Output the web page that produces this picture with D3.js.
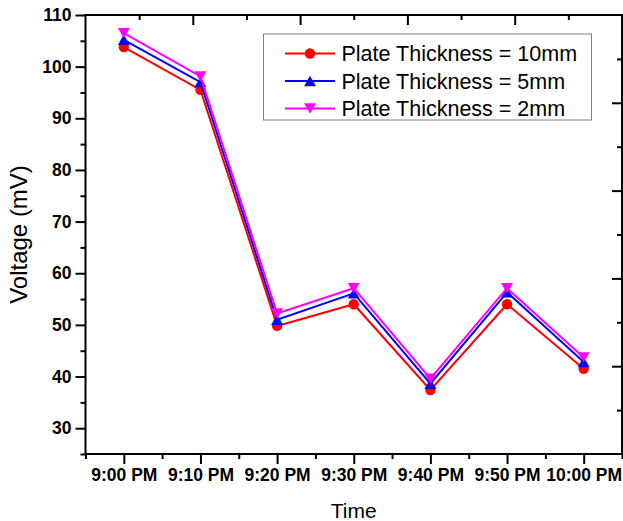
<!DOCTYPE html>
<html>
<head>
<meta charset="utf-8">
<script src="https://cdn.jsdelivr.net/npm/d3@7"></script>
<style>
  html, body { margin: 0; padding: 0; background: #fff; }
  svg { display: block; font-family: "Liberation Sans", Arial, sans-serif; }
</style>
</head>
<body>
<svg id="chart" width="623" height="521"></svg>
<script>
// ---- Data ----
const times = ["9:00 PM", "9:10 PM", "9:20 PM", "9:30 PM", "9:40 PM", "9:50 PM", "10:00 PM"];
const thick10 = [103.8, 95.5, 49.8, 54.0, 37.4, 54.0, 41.5];
const thick5  = [105.2, 97.0, 51.0, 56.1, 38.6, 56.3, 42.8];
const thick2  = [106.5, 98.1, 52.2, 57.1, 39.6, 57.1, 43.7];
const seriesNames = ["Plate Thickness = 10mm", "Plate Thickness = 5mm", "Plate Thickness = 2mm"];
const seriesColors = ["#ff0000", "#0000ff", "#ff00ff"];
const seriesSymbols = ["circle", "up", "down"];
const yMajorTicks = [30, 40, 50, 60, 70, 80, 90, 100, 110];
const yMinorTicks = [25, 35, 45, 55, 65, 75, 85, 95, 105];

const series = [thick10, thick5, thick2];

// ---- Layout ----
const L = 85.5, R = 622, T = 15, B = 454;
const svg = d3.select("#chart");

const xi = d3.scaleLinear().domain([-0.5, times.length - 0.5]).range([L, R]);
const y = d3.scaleLinear().domain([25, 110]).range([B, T]);

// frame
svg.append("rect").attr("x", L).attr("y", T).attr("width", R - L).attr("height", B - T)
  .attr("fill", "none").attr("stroke", "#000").attr("stroke-width", 2);

// bottom axis major
const xAxis = d3.axisBottom(xi).tickValues(d3.range(times.length))
  .tickFormat(i => times[i]).tickSize(10).tickPadding(5).tickSizeOuter(0);
const gx = svg.append("g").attr("transform", `translate(0,${B})`).call(xAxis);
gx.select(".domain").remove();
gx.selectAll(".tick line").attr("stroke-width", 2);
gx.selectAll(".tick text").attr("font-size", 17.5).attr("font-weight", "bold")
  .attr("font-family", "'Liberation Sans', Arial, sans-serif").attr("fill", "#000");

// bottom axis minor
const gxm = svg.append("g").attr("transform", `translate(0,${B})`)
  .call(d3.axisBottom(xi).tickValues(d3.range(-0.5, times.length, 1)).tickSize(5).tickFormat(""));
gxm.select(".domain").remove();
gxm.selectAll(".tick line").attr("stroke-width", 2);

// left axis major
const yAxis = d3.axisLeft(y).tickValues(yMajorTicks).tickSize(10).tickPadding(4).tickSizeOuter(0);
const gy = svg.append("g").attr("transform", `translate(${L},0)`).call(yAxis);
gy.select(".domain").remove();
gy.selectAll(".tick line").attr("stroke-width", 2);
gy.selectAll(".tick text").attr("font-size", 17.5).attr("font-weight", "bold")
  .attr("font-family", "'Liberation Sans', Arial, sans-serif").attr("fill", "#000");

// left axis minor
const gym = svg.append("g").attr("transform", `translate(${L},0)`)
  .call(d3.axisLeft(y).tickValues(yMinorTicks).tickSize(5).tickFormat(""));
gym.select(".domain").remove();
gym.selectAll(".tick line").attr("stroke-width", 2);

// top frame ticks (inward)
const xt = d3.scaleLinear().domain([0, 10]).range([L, R]);
const gt = svg.append("g").attr("transform", `translate(0,${T})`)
  .call(d3.axisTop(xt).tickValues(d3.range(1, 10)).tickSize(0).tickFormat(""));
gt.select(".domain").remove();
gt.selectAll(".tick line").attr("y2", d => d % 2 === 0 ? 10 : 5).attr("stroke-width", 2);

// right frame ticks (inward)
const yr = d3.scaleLinear().domain([0, 10]).range([B, T]);
const gr = svg.append("g").attr("transform", `translate(${R},0)`)
  .call(d3.axisRight(yr).tickValues(d3.range(1, 10)).tickSize(0).tickFormat(""));
gr.select(".domain").remove();
gr.selectAll(".tick line").attr("x2", d => d % 2 === 0 ? -10 : -5).attr("stroke-width", 2);

// axis titles
svg.append("text").attr("x", (L + R) / 2).attr("y", 518).attr("text-anchor", "middle")
  .attr("font-size", 21).text("Time");
svg.append("text").attr("transform", `translate(27,${(T + B) / 2}) rotate(-90)`)
  .attr("text-anchor", "middle").attr("font-size", 24).text("Voltage (mV)");

// marker path
function markerPath(type, s) {
  if (type === "circle") return d3.symbol(d3.symbolCircle, Math.PI * s * s)();
  const h = s * 1.0, w = s * 1.15;
  if (type === "up") return `M0,${-h}L${w},${h}L${-w},${h}Z`;
  return `M0,${h}L${w},${-h}L${-w},${-h}Z`;
}

const line = d3.line().x((d, i) => xi(i)).y(d => y(d));

series.forEach((vals, si) => {
  const g = svg.append("g");
  g.append("path").datum(vals).attr("d", line).attr("fill", "none")
    .attr("stroke", seriesColors[si]).attr("stroke-width", 2);
  g.selectAll("path.m").data(vals).enter().append("path").attr("class", "m")
    .attr("transform", (d, i) => `translate(${xi(i)},${y(d)})`)
    .attr("d", markerPath(seriesSymbols[si], 5.2))
    .attr("fill", seriesColors[si]);
});

// legend
const lg = svg.append("g");
lg.append("rect").attr("x", 263.5).attr("y", 34).attr("width", 328).attr("height", 86)
  .attr("fill", "#fff").attr("stroke", "#808080").attr("stroke-width", 1);
seriesNames.forEach((name, i) => {
  const cy = 53.5 + i * 27.5;
  lg.append("line").attr("x1", 285).attr("x2", 335).attr("y1", cy).attr("y2", cy)
    .attr("stroke", seriesColors[i]).attr("stroke-width", 2);
  lg.append("path").attr("transform", `translate(310,${cy})`)
    .attr("d", markerPath(seriesSymbols[i], 5.2)).attr("fill", seriesColors[i]);
  lg.append("text").attr("x", 341.5).attr("y", cy).attr("dy", "0.35em")
    .attr("font-size", 21.5).attr("fill", "#000").text(name);
});
</script>
</body>
</html>
